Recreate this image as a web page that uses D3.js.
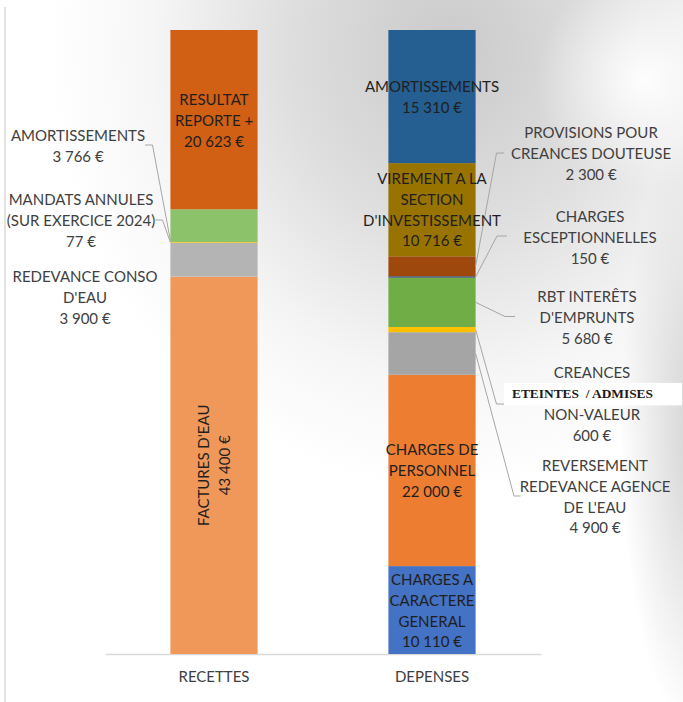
<!DOCTYPE html>
<html>
<head>
<meta charset="utf-8">
<script src="https://cdn.jsdelivr.net/npm/d3@7.9.0/dist/d3.min.js"></script>
<style>
  body { margin: 0; background: #fff; }
  svg { display: block; }
  text { font-family: Lato, "Liberation Sans", sans-serif; font-size: 15px; }
</style>
</head>
<body>
<div id="chart"></div>
<script>
// categories
const categories = ['RECETTES', 'DEPENSES'];

// recettes, bottom to top
const recettesNames = [
  "FACTURES D'EAU",
  "REDEVANCE CONSO\nD'EAU",
  "MANDATS ANNULES\n(SUR EXERCICE 2024)",
  "AMORTISSEMENTS",
  "RESULTAT\nREPORTE +"
];
const recettesValues = [43400, 3900, 77, 3766, 20623];

// depenses, bottom to top
const depensesNames = [
  "CHARGES A\nCARACTERE\nGENERAL",
  "CHARGES DE\nPERSONNEL",
  "REVERSEMENT\nREDEVANCE AGENCE\nDE L'EAU",
  "CREANCES\nETEINTES  / ADMISES\nNON-VALEUR",
  "RBT INTERÊTS\nD'EMPRUNTS",
  "CHARGES\nESCEPTIONNELLES",
  "PROVISIONS POUR\nCREANCES DOUTEUSE",
  "VIREMENT A LA\nSECTION\nD'INVESTISSEMENT",
  "AMORTISSEMENTS"
];
const depensesValues = [10110, 22000, 4900, 600, 5680, 150, 2300, 10716, 15310];

const recettesColors = ['#F0985A', '#B4B4B4', '#FFC000', '#8CC26A', '#D15F14'];
const depensesColors = ['#4472C4', '#ED7D31', '#A5A5A5', '#FFC000', '#70AD47', '#264478', '#9E480E', '#997300', '#255E91'];

// label placement (layout only): inside bar, rotated, or outside with leader elbow
const recettesLabels = [
  { mode: 'rotated' },
  { mode: 'out', x: 85, y: 276.5 },
  { mode: 'out', x: 81, y: 199.5, leader: [[155.5, 220], [162.5, 220]], at: 0.5 },
  { mode: 'out', x: 78, y: 135.5, leader: [[145, 145], [152.5, 145]], at: 0.05 },
  { mode: 'in', y: 99.5 }
];
const depensesLabels = [
  { mode: 'in', y: 579.5 },
  { mode: 'in', y: 450 },
  { mode: 'out', x: 595, y: 465.5, leader: [[520.5, 496], [514, 496]], at: 0.5 },
  { mode: 'out', x: 592, y: 373, leader: [[505, 404], [496.5, 404]], at: 0.5, boxed: 1 },
  { mode: 'out', x: 587, y: 297, leader: [[515, 316.5], [505, 316.5]], at: 0.5 },
  { mode: 'out', x: 590, y: 216.5, leader: [[507, 236], [497, 236]], at: 0.5 },
  { mode: 'out', x: 591, y: 132.5, leader: [[504, 153], [496.5, 153]], at: 0.5 },
  { mode: 'in', y: 178.5 },
  { mode: 'in', y: 86.5 }
];

const width = 683;
const height = 702;
const lineH = 20.9;

const fr = d3.formatLocale({ decimal: ',', thousands: '\u00a0', grouping: [3], currency: ['', '\u00a0€'] });
const money = fr.format('$,.0f');

function stack(names, values, colors, labels, cat) {
  let acc = 0;
  return values.map((v, i) => {
    const d = { cat, name: names[i], value: v, y0: acc, y1: acc + v, color: colors[i], label: labels[i] };
    acc += v;
    return d;
  });
}

const segments = [
  ...stack(recettesNames, recettesValues, recettesColors, recettesLabels, categories[0]),
  ...stack(depensesNames, depensesValues, depensesColors, depensesLabels, categories[1])
];

const svg = d3.select('#chart').append('svg')
  .attr('width', width)
  .attr('height', height);

// background shading
const defs = svg.append('defs');
const g1 = defs.append('radialGradient').attr('id', 'shade')
  .attr('gradientUnits', 'userSpaceOnUse')
  .attr('cx', 450).attr('cy', 50).attr('r', 400)
  .attr('gradientTransform', 'translate(450,50) scale(1,1.1) translate(-450,-50)');
g1.append('stop').attr('offset', 0).attr('stop-color', '#cacaca');
g1.append('stop').attr('offset', 0.4).attr('stop-color', '#dedede');
g1.append('stop').attr('offset', 0.75).attr('stop-color', '#f6f6f6');
g1.append('stop').attr('offset', 1).attr('stop-color', '#ffffff');
const g2 = defs.append('radialGradient').attr('id', 'shine')
  .attr('gradientUnits', 'userSpaceOnUse')
  .attr('cx', 645).attr('cy', 80).attr('r', 110);
g2.append('stop').attr('offset', 0).attr('stop-color', '#ffffff').attr('stop-opacity', 0.95);
g2.append('stop').attr('offset', 1).attr('stop-color', '#ffffff').attr('stop-opacity', 0);
const g3 = defs.append('radialGradient').attr('id', 'edge')
  .attr('gradientUnits', 'userSpaceOnUse')
  .attr('cx', 700).attr('cy', 430).attr('r', 80)
  .attr('gradientTransform', 'translate(700,430) scale(1,3.8) translate(-700,-430)');
g3.append('stop').attr('offset', 0).attr('stop-color', '#cfcfcf').attr('stop-opacity', 1);
g3.append('stop').attr('offset', 1).attr('stop-color', '#cfcfcf').attr('stop-opacity', 0);

svg.append('rect').attr('width', width).attr('height', height).attr('fill', 'url(#shade)');
svg.append('rect').attr('width', width).attr('height', height).attr('fill', 'url(#shine)');
svg.append('rect').attr('width', width).attr('height', height).attr('fill', 'url(#edge)');

// left border line
svg.append('line').attr('x1', 5).attr('x2', 5).attr('y1', 7).attr('y2', height)
  .attr('stroke', '#d9d9d9').attr('stroke-width', 1.5);

const x = d3.scaleBand().domain(categories).range([105, 541]).padding(0);
const barW = x.bandwidth() * 0.4;
const y = d3.scaleLinear()
  .domain([0, d3.sum(recettesValues)])
  .range([654, 30]);

// axis
const xAxis = svg.append('g')
  .attr('transform', `translate(0,${y(0)})`)
  .call(d3.axisBottom(x).tickSize(0).tickPadding(17));
xAxis.select('.domain').attr('stroke', '#d9d9d9').attr('stroke-width', 1.5);
xAxis.selectAll('text').attr('fill', '#404040').style('font-size', '15px')
  .style('font-family', 'Lato, "Liberation Sans", sans-serif');

// bars
svg.append('g').selectAll('rect')
  .data(segments)
  .join('rect')
  .attr('x', d => x(d.cat) + (x.bandwidth() - barW) / 2)
  .attr('width', barW)
  .attr('y', d => y(d.y1))
  .attr('height', d => y(d.y0) - y(d.y1))
  .attr('fill', d => d.color);

// leader lines
const leaders = segments.filter(d => d.label.leader);
svg.append('g').selectAll('polyline')
  .data(leaders)
  .join('polyline')
  .attr('fill', 'none')
  .attr('stroke', '#a6a6a6')
  .attr('stroke-width', 1)
  .attr('points', d => {
    const cx = x(d.cat) + x.bandwidth() / 2;
    const side = d.label.x < cx ? -1 : 1;
    const ax = cx + side * barW / 2;
    const ay = y(d.y0 + (d.y1 - d.y0) * d.label.at);
    return [...d.label.leader, [ax, ay]].map(p => p.join(',')).join(' ');
  });

// labels
const labelG = svg.append('g');
segments.forEach(d => {
  const lines = d.name.split('\n').concat([money(d.value)]);
  const cx = x(d.cat) + x.bandwidth() / 2;
  const L = d.label;
  if (L.mode === 'rotated') {
    const cy = (y(d.y0) + y(d.y1)) / 2;
    const t = labelG.append('text')
      .attr('transform', `translate(${cx},${cy}) rotate(-90)`)
      .attr('text-anchor', 'middle')
      .attr('fill', '#1f1f1f');
    lines.forEach((s, i) => {
      t.append('tspan').attr('x', 0)
        .attr('y', (i - (lines.length - 1) / 2) * lineH)
        .attr('dy', '0.35em').text(s);
    });
    return;
  }
  const lx = L.mode === 'in' ? cx : L.x;
  const fill = L.mode === 'in' ? '#1f1f1f' : '#404040';
  lines.forEach((s, i) => {
    const ly = L.y + i * lineH;
    if (L.boxed === i) {
      labelG.append('rect')
        .attr('x', 504).attr('y', ly - 11)
        .attr('width', 178).attr('height', 22.5)
        .attr('fill', '#ffffff');
      labelG.append('text')
        .attr('x', 512).attr('y', ly).attr('dy', '0.35em')
        .attr('textLength', 141)
        .attr('lengthAdjust', 'spacingAndGlyphs')
        .style('white-space', 'pre')
        .style('font-family', '"Liberation Serif", "DejaVu Serif", serif')
        .style('font-weight', 'bold')
        .style('font-size', '13px')
        .attr('fill', '#1a1a1a')
        .text(s);
      return;
    }
    labelG.append('text')
      .attr('x', lx).attr('y', ly).attr('dy', '0.35em')
      .attr('text-anchor', 'middle')
      .attr('fill', fill)
      .text(s);
  });
});
</script>
</body>
</html>
